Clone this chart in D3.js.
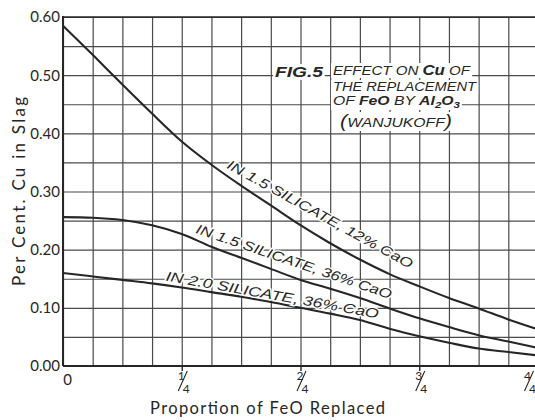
<!DOCTYPE html>
<html><head><meta charset="utf-8">
<script src="https://cdn.jsdelivr.net/npm/d3@7"></script>
<style>
html,body{margin:0;padding:0;background:#fff;}
svg{display:block;}
</style></head>
<body>
<svg id="c" width="535" height="420"></svg>
<script>
// ---- data ----
const fracs = [0, 0.0625, 0.125, 0.1875, 0.25, 0.3125, 0.375, 0.4375, 0.5, 0.5625, 0.625, 0.6875, 0.75, 0.8125, 0.875, 0.9375, 1];
const cu15_12 = [0.585, 0.535, 0.484, 0.434, 0.386, 0.346, 0.310, 0.276, 0.242, 0.211, 0.183, 0.158, 0.137, 0.117, 0.099, 0.080, 0.063];
const cu15_36 = [0.256, 0.255, 0.251, 0.242, 0.227, 0.205, 0.186, 0.167, 0.148, 0.133, 0.117, 0.099, 0.082, 0.067, 0.053, 0.042, 0.031];
const cu20_36 = [0.160, 0.154, 0.148, 0.142, 0.135, 0.127, 0.119, 0.110, 0.100, 0.090, 0.079, 0.064, 0.051, 0.040, 0.030, 0.024, 0.018];
const seriesNames = ["IN 1.5 SILICATE, 12% CaO", "IN 1.5 SILICATE, 36% CaO", "IN 2.0 SILICATE, 36% CaO"];
// label chords along each curve (start/end in data units)
const labelStart = [[0.343, 0.341], [0.278, 0.229], [0.215, 0.147]];
const labelEnd   = [[0.730, 0.167], [0.688, 0.115], [0.663, 0.082]];
const yTicks = [0, 0.1, 0.2, 0.3, 0.4, 0.5, 0.6];
const xTicks = [0, 0.25, 0.5, 0.75, 1];
const xTickNum = ["0", "1", "2", "3", "4"];
const xTickDen = ["", "4", "4", "4", "4"];
const xGrid = d3.range(17).map(i => i / 16);
const yGrid = d3.range(13).map(i => i * 0.05);

const svg = d3.select("#c");
const L = 63, R = 538, T = 17, B = 366;
const x = d3.scaleLinear().domain([0, 1]).range([L, R]);
const y = d3.scaleLinear().domain([0, 0.6]).range([B, T]);
const ink = "#262626";
const grid = "#4a4a4a";

svg.append("rect").attr("width", 535).attr("height", 420).attr("fill", "#fff");

// grid
const gx = svg.append("g").attr("transform", `translate(0,${B})`)
  .call(d3.axisBottom(x).tickValues(xGrid).tickSize(-(B - T)).tickFormat(""));
gx.select(".domain").remove();
gx.selectAll("line").attr("stroke", grid).attr("stroke-width", 1.2);
const gy = svg.append("g").attr("transform", `translate(${L},0)`)
  .call(d3.axisLeft(y).tickValues(yGrid).tickSize(-(R - L)).tickFormat(""));
gy.select(".domain").remove();
gy.selectAll("line").attr("stroke", grid).attr("stroke-width", 1.2);

// frame
svg.append("line").attr("x1", L).attr("x2", R).attr("y1", y(0.6)).attr("y2", y(0.6)).attr("stroke", ink).attr("stroke-width", 1.6);
svg.append("line").attr("x1", L).attr("x2", R).attr("y1", B).attr("y2", B).attr("stroke", ink).attr("stroke-width", 2);
svg.append("line").attr("x1", L).attr("x2", L).attr("y1", T - 1).attr("y2", B).attr("stroke", ink).attr("stroke-width", 2);

// title block (masking grid)
const title = svg.append("g").attr("font-family", "Liberation Sans, Arial, sans-serif").attr("font-style", "italic").attr("fill", ink);
function titleLine(px, py, len, build, size) {
  const t = title.append("text").attr("x", px).attr("y", py).attr("font-size", size || 13)
    .attr("textLength", len).attr("lengthAdjust", "spacingAndGlyphs");
  build(t);
  const bb = t.node().getBBox();
  title.insert("rect", () => t.node()).attr("x", bb.x - 2).attr("y", bb.y + 1).attr("width", bb.width + 3).attr("height", bb.height - 1).attr("fill", "#fff");
  return t;
}
titleLine(275, 77, 48, t => t.attr("font-weight", "bold").text("FIG.5"), 15);
titleLine(333, 75, 137, t => {
  t.append("tspan").text("EFFECT ON ");
  t.append("tspan").attr("font-weight", "bold").attr("font-size", 14.5).text("Cu");
  t.append("tspan").text(" OF");
});
titleLine(333, 91, 143, t => t.text("THE REPLACEMENT"));
titleLine(333, 105, 127, t => {
  t.append("tspan").text("OF ");
  t.append("tspan").attr("font-weight", "bold").text("FeO");
  t.append("tspan").text(" BY ");
  t.append("tspan").attr("font-weight", "bold").text("Al");
  t.append("tspan").attr("font-weight", "bold").attr("font-size", 9.5).attr("dy", 3).text("2");
  t.append("tspan").attr("font-weight", "bold").attr("dy", -3).text("O");
  t.append("tspan").attr("font-weight", "bold").attr("font-size", 9.5).attr("dy", 3).text("3");
});
titleLine(340, 127, 112, t => {
  t.append("tspan").attr("font-size", 18).text("(");
  t.append("tspan").text("WANJUKOFF");
  t.append("tspan").attr("font-size", 18).text(")");
});

// curves
const line = d3.line().x((d, i) => x(fracs[i])).y(d => y(d)).curve(d3.curveMonotoneX);
[cu15_12, cu15_36, cu20_36].forEach(s => {
  svg.append("path").attr("d", line(s)).attr("fill", "none").attr("stroke", ink).attr("stroke-width", 2.1);
});

// curve labels
seriesNames.forEach((name, i) => {
  const x0 = x(labelStart[i][0]), y0 = y(labelStart[i][1]);
  const x1 = x(labelEnd[i][0]), y1 = y(labelEnd[i][1]);
  const ang = Math.atan2(y1 - y0, x1 - x0) * 180 / Math.PI;
  const len = Math.hypot(x1 - x0, y1 - y0);
  svg.append("text")
    .attr("transform", `translate(${x0},${y0}) rotate(${ang})`)
    .attr("font-family", "Liberation Sans, Arial, sans-serif").attr("font-style", "italic")
    .attr("font-size", 13.5).attr("fill", ink)
    .attr("stroke", "#fff").attr("stroke-width", 2.5).attr("paint-order", "stroke")
    .attr("textLength", len).attr("lengthAdjust", "spacingAndGlyphs")
    .text(name);
});

// y axis labels
const ya = svg.append("g").attr("transform", `translate(${L},0)`)
  .call(d3.axisLeft(y).tickValues(yTicks).tickFormat(d3.format(".2f")).tickSize(0).tickPadding(3));
ya.select(".domain").remove();
ya.selectAll("text").attr("font-family", "Lato, sans-serif").attr("font-size", 15).attr("fill", ink).attr("dy", "0.33em");

// x axis fraction labels
const xa = svg.append("g").attr("transform", `translate(0,${B})`)
  .call(d3.axisBottom(x).tickValues(xTicks).tickFormat("").tickSize(5));
xa.select(".domain").remove();
xa.selectAll("line").attr("stroke", ink).attr("stroke-width", 1.4);
xa.selectAll(".tick").each(function (d, i) {
  const g = d3.select(this);
  if (i === 0) {
    g.append("text").attr("x", 4).attr("y", 19).attr("text-anchor", "middle")
      .attr("font-family", "Lato, sans-serif").attr("font-size", 15).attr("fill", ink).text(xTickNum[i]);
    g.select("line").remove();
    return;
  }
  // keep the last label inside the window
  const sh = (x(d) + 6 > 534) ? (534 - 6 - x(d)) : 0;
  if (sh) g.select("line").remove();
  g.append("text").attr("x", -1 + sh).attr("y", 14).attr("text-anchor", "middle")
    .attr("font-family", "Lato, sans-serif").attr("font-size", 12).attr("fill", ink).text(xTickNum[i]);
  g.append("line").attr("x1", -4 + sh).attr("y1", 25).attr("x2", 5 + sh).attr("y2", 5).attr("stroke", ink).attr("stroke-width", 1.1);
  g.append("text").attr("x", 4 + sh).attr("y", 27).attr("text-anchor", "middle")
    .attr("font-family", "Lato, sans-serif").attr("font-size", 12).attr("fill", ink).text(xTickDen[i]);
});

// axis titles
svg.append("text").attr("x", 150).attr("y", 414)
  .attr("font-family", "Lato, sans-serif").attr("font-size", 16.5).attr("fill", ink)
  .attr("textLength", 235).attr("lengthAdjust", "spacing")
  .text("Proportion of FeO Replaced");
svg.append("text").attr("transform", "translate(25,286) rotate(-90)")
  .attr("font-family", "Lato, sans-serif").attr("font-size", 17).attr("fill", ink)
  .attr("textLength", 189).attr("lengthAdjust", "spacing")
  .text("Per Cent. Cu in Slag");
</script>
</body></html>
